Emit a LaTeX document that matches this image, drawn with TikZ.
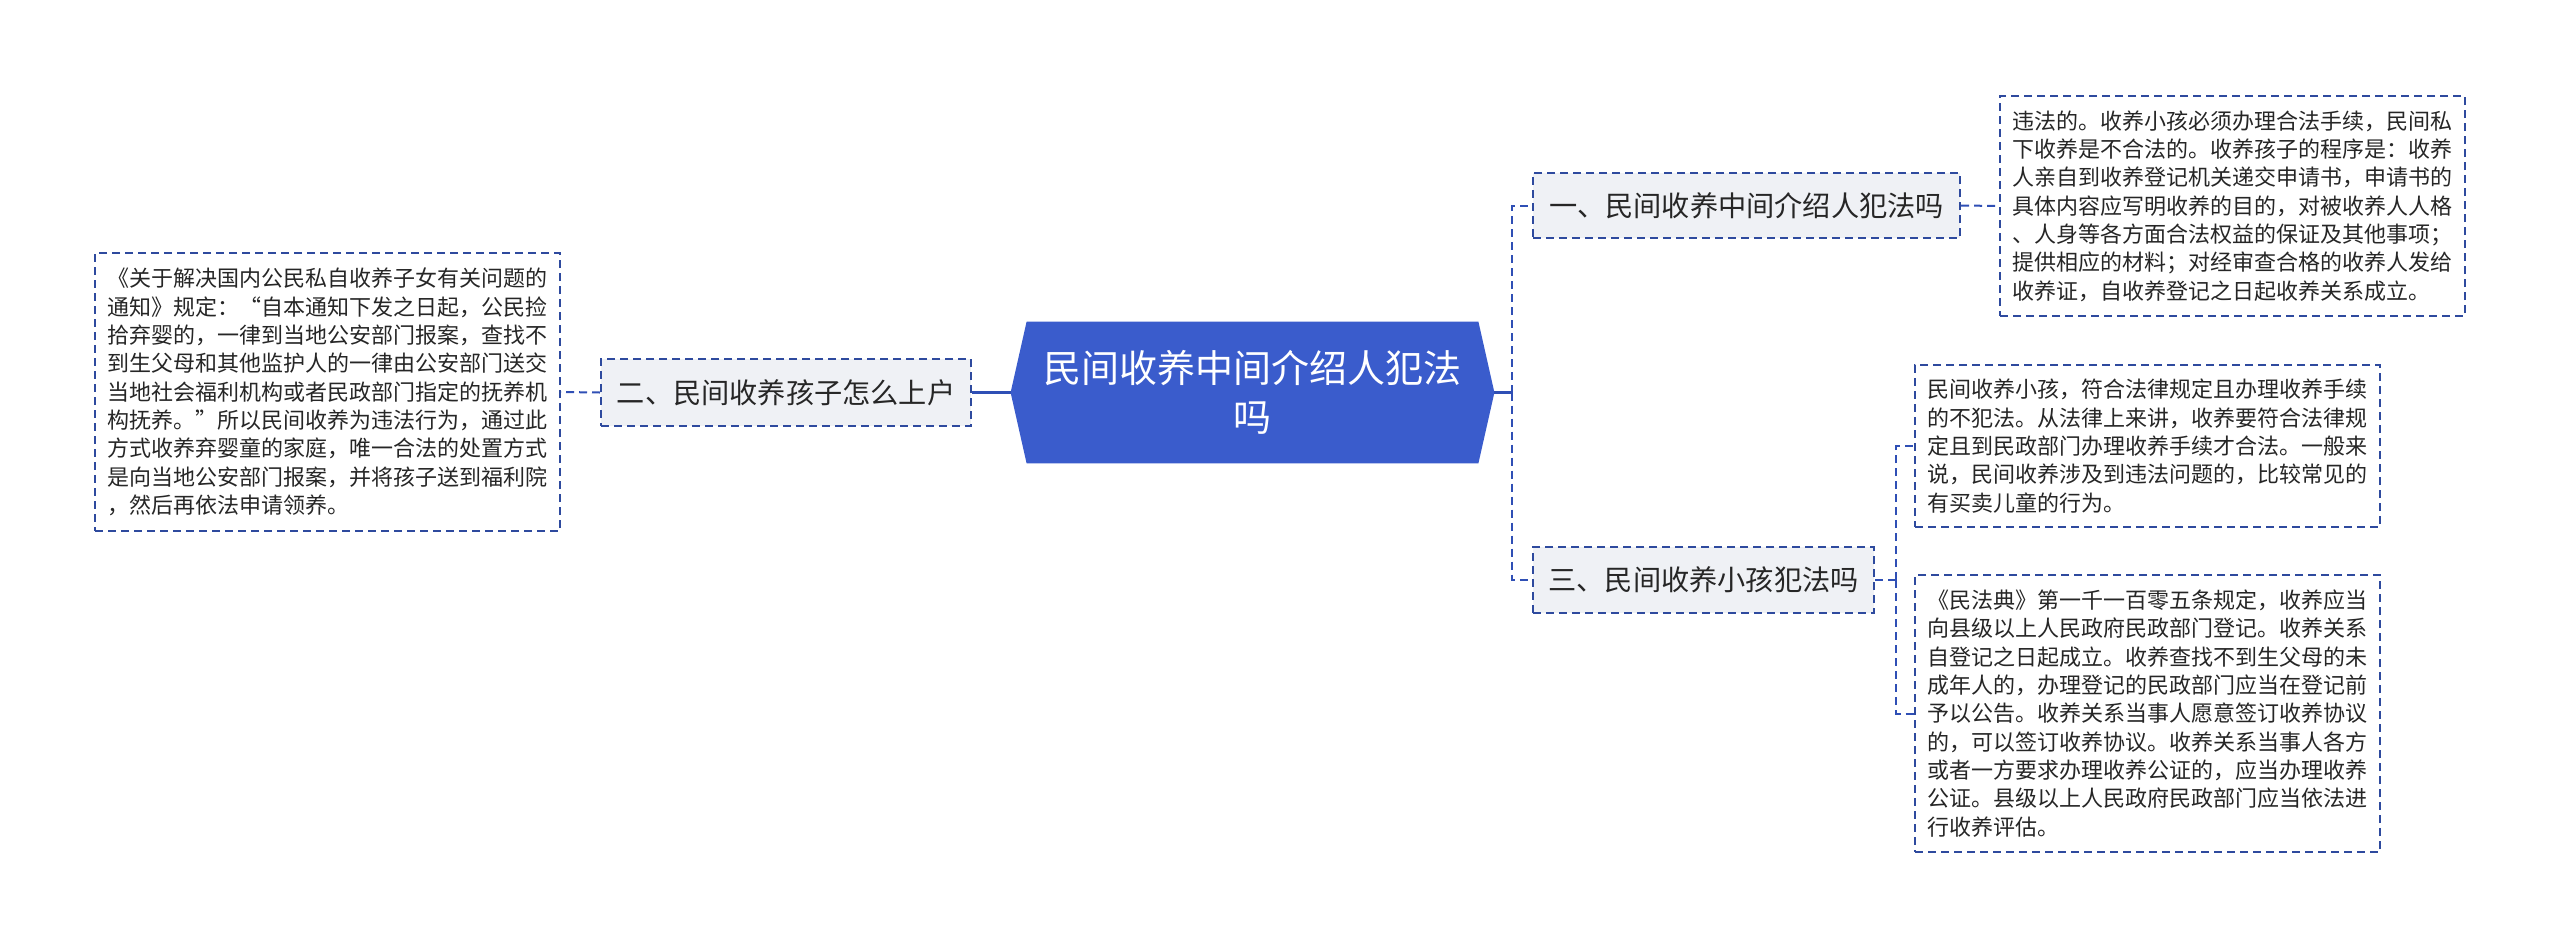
\documentclass[tikz,border=0pt]{standalone}
\usepackage{fontspec}
\setmainfont{Noto Sans CJK SC}
\definecolor{adoptBlue}{HTML}{3A5CCC}
\definecolor{adoptLine}{HTML}{2F4FB5}
\definecolor{adoptEdge}{HTML}{2E4A9E}
\definecolor{adoptGrey}{HTML}{EFF1F5}
\usetikzlibrary{positioning, calc, backgrounds}

\begin{document}
\begin{tikzpicture}[x=0.5pt, y=-0.5pt,
    topic/.style={draw=adoptEdge, line width=1pt, dash pattern=on 4pt off 2.5pt, fill=adoptGrey,
        inner sep=0pt, font=\fontsize{14.1}{17}\selectfont, text=black!85},
    leaf/.style={draw=adoptEdge, line width=0.8pt, dash pattern=on 4pt off 2.5pt, fill=white,
        inner sep=0pt, align=left, font=\fontsize{11}{14.15}\selectfont, text=black!85},
    solidlink/.style={adoptLine, line width=1.4pt},
    dashlink/.style={adoptLine, line width=1pt, dash pattern=on 4pt off 2.5pt}]
        \useasboundingbox (0,0) rectangle (2560,948);

        % Root
        \node[minimum width=241.5pt, minimum height=70.5pt, inner sep=0pt, align=center,
              font=\fontsize{19}{24.5}\selectfont, text=white] (root) at (1252.5,392.5)
              {民间收养中间介绍人犯法\\吗};
        \begin{scope}[on background layer]
            \fill[adoptBlue] (root.west) -- ($(root.north west)+(16,0)$) -- ($(root.north east)+(-16,0)$)
                -- (root.east) -- ($(root.south east)+(-16,0)$) -- ($(root.south west)+(16,0)$) -- cycle;
        \end{scope}

        % Branches
        \node[topic, minimum width=185pt, minimum height=33.5pt] (howreg) at (786,392.5) {二、民间收养孩子怎么上户};
        \node[topic, minimum width=213.5pt, minimum height=32.5pt] (broker) at (1746.5,205.5) {一、民间收养中间介绍人犯法吗};
        \node[topic, minimum width=170.5pt, minimum height=33pt] (child) at (1703.5,580) {三、民间收养小孩犯法吗};

        % Leaves
        \node[leaf, minimum width=232.5pt, minimum height=139pt] (regtext) at (327.5,392) {《关于解决国内公民私自收养子女有关问题的\\
通知》规定：“自本通知下发之日起，公民捡\\
拾弃婴的，一律到当地公安部门报案，查找不\\
到生父母和其他监护人的一律由公安部门送交\\
当地社会福利机构或者民政部门指定的抚养机\\
构抚养。”所以民间收养为违法行为，通过此\\
方式收养弃婴童的家庭，唯一合法的处置方式\\
是向当地公安部门报案，并将孩子送到福利院\\
，然后再依法申请领养。};
        \node[leaf, minimum width=232.5pt, minimum height=110pt] (brokertext) at (2232.5,206) {违法的。收养小孩必须办理合法手续，民间私\\
下收养是不合法的。收养孩子的程序是：收养\\
人亲自到收养登记机关递交申请书，申请书的\\
具体内容应写明收养的目的，对被收养人人格\\
、人身等各方面合法权益的保证及其他事项；\\
提供相应的材料；对经审查合格的收养人发给\\
收养证，自收养登记之日起收养关系成立。};
        \node[leaf, minimum width=232.5pt, minimum height=81pt] (lawful) at (2147.5,446) {民间收养小孩，符合法律规定且办理收养手续\\
的不犯法。从法律上来讲，收养要符合法律规\\
定且到民政部门办理收养手续才合法。一般来\\
说，民间收养涉及到违法问题的，比较常见的\\
有买卖儿童的行为。};
        \node[leaf, minimum width=232.5pt, minimum height=138.5pt] (civilcode) at (2147.5,713.5) {《民法典》第一千一百零五条规定，收养应当\\
向县级以上人民政府民政部门登记。收养关系\\
自登记之日起成立。收养查找不到生父母的未\\
成年人的，办理登记的民政部门应当在登记前\\
予以公告。收养关系当事人愿意签订收养协议\\
的，可以签订收养协议。收养关系当事人各方\\
或者一方要求办理收养公证的，应当办理收养\\
公证。县级以上人民政府民政部门应当依法进\\
行收养评估。};

        % Connectors
        \draw[solidlink] (root.west) -- (howreg.east);
        \draw[dashlink] (howreg.west) -- (regtext.east);
        \draw[solidlink] (root.east) -- ++(18,0) coordinate (rjoin);
        \draw[dashlink] (rjoin) |- (broker.west);
        \draw[dashlink] (rjoin) |- (child.west);
        \draw[dashlink] (broker.east) -- (brokertext.west);
        \draw[dashlink] (child.east) -- ++(21,0) coordinate (cjoin);
        \draw[dashlink] (cjoin) |- (lawful.west);
        \draw[dashlink] (cjoin) |- (civilcode.west);
    \end{tikzpicture}
\end{document}
